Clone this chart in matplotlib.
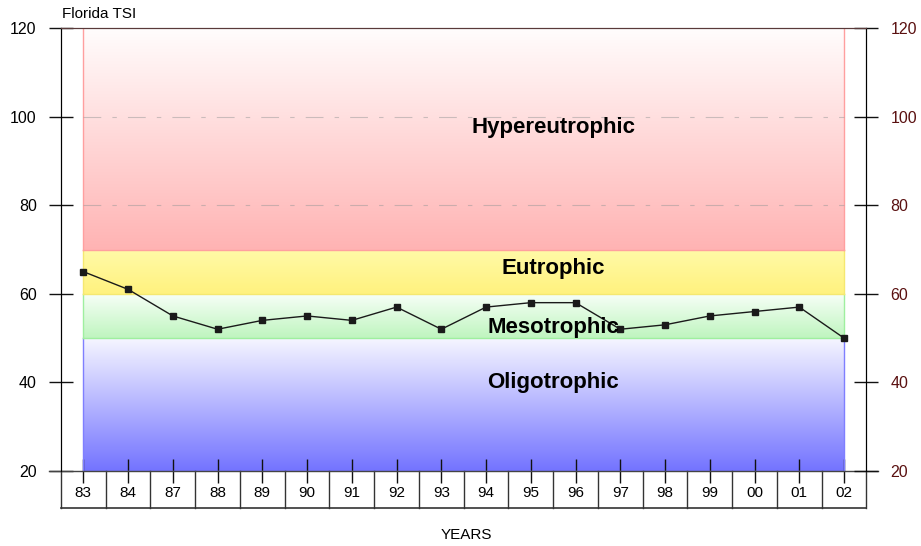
import matplotlib
matplotlib.use("Agg")
import matplotlib.pyplot as plt
import numpy as np
from matplotlib.colors import LinearSegmentedColormap
import matplotlib.transforms as mtransforms

plt.rcParams['font.family'] = ['Liberation Sans', 'DejaVu Sans']

years = ["83", "84", "87", "88", "89", "90", "91", "92", "93", "94", "95", "96", "97", "98", "99", "00", "01", "02"]
tsi = [65, 61, 55, 52, 54, 55, 54, 57, 52, 57, 58, 58, 52, 53, 55, 56, 57, 50]

band_names = ["Oligotrophic", "Mesotrophic", "Eutrophic", "Hypereutrophic"]
band_low = [20, 50, 60, 70]
band_high = [50, 60, 70, 120]
band_top_colors = ["#f6f6ff", "#f8fff8", "#fffaa8", "#fffdfd"]
band_bot_colors = ["#7373ff", "#bff5bf", "#fff27e", "#ffb3b3"]
band_edge_colors = ["#7f7fff", "#9fef9f", "#f5e870", "#ff9f9f"]
label_y = [40, 52.3, 65.8, 97.6]

yticks = [20, 40, 60, 80, 100, 120]

fig = plt.figure(figsize=(9.21, 5.46), dpi=100)
ax = fig.add_axes([61/921, 1-471/546, 805.4/921, 443/546])
n = len(years)
x = np.arange(n)
ax.set_xlim(-0.5, n - 0.5)
ax.set_ylim(20, 120)

for lo, hi, ct, cb, ce in zip(band_low, band_high, band_top_colors, band_bot_colors, band_edge_colors):
    cmap = LinearSegmentedColormap.from_list("g", [cb, ct])
    grad = np.linspace(0, 1, 256).reshape(-1, 1)
    ax.imshow(grad, extent=(0, n - 1, lo, hi), origin="lower", cmap=cmap, aspect="auto", zorder=1)
    ax.plot([0, 0], [lo, hi], color=ce, lw=1, zorder=2)
    ax.plot([n - 1, n - 1], [lo, hi], color=ce, lw=1, zorder=2)
    ax.plot([0, n - 1], [lo, lo], color=ce, lw=1, zorder=2)

for yv in [80, 100]:
    ax.plot([0, n - 1], [yv, yv], color="#999999", lw=0.8, ls=(0, (16, 10, 4, 10)), alpha=0.5, zorder=2)

for name, ly in zip(band_names, label_y):
    ax.text(10.5, ly, name, ha="center", va="center", fontsize=16, fontweight="bold", color="black", zorder=5)

ax.plot(x, tsi, color="#1a1a1a", lw=1, marker="s", markersize=5, zorder=4)

ax.set_xticks(x)
ax.set_xticklabels(years, fontsize=11)
ax.tick_params(axis="x", direction="inout", length=17, width=1, pad=2, color="#111111")
ax.set_yticks(yticks)
ax.set_yticklabels([str(v) for v in yticks], fontsize=11.5)
ax.tick_params(axis="y", direction="inout", length=17, width=1, pad=9, color="#111111")

ax2 = ax.twinx()
ax2.set_ylim(20, 120)
ax2.set_yticks(yticks)
ax2.set_yticklabels([str(v) for v in yticks], fontsize=11.5, color="#5a1010")
ax2.tick_params(axis="y", direction="inout", length=17, width=1, pad=9, color="#111111")

for a in (ax, ax2):
    a.spines["bottom"].set_visible(False)
    a.spines["top"].set_color("#5a3a3a")
    a.spines["left"].set_color("black")
    a.spines["right"].set_color("black")

trans = mtransforms.blended_transform_factory(ax.transData, ax.transAxes)
tb = -37 / 443
for b in np.arange(-0.5, n, 1.0):
    ax.plot([b, b], [0, tb], transform=trans, color="#333333", lw=1, clip_on=False, zorder=6)
ax.plot([-0.5, n - 0.5], [tb, tb], transform=trans, color="#333333", lw=1.2, clip_on=False)
ax.plot([-0.77, n - 0.23], [0, 0], transform=trans, color="#444444", lw=1, clip_on=False, zorder=6)

fig.text(62/921, 1-14/546, "Florida TSI", fontsize=11, ha="left", va="center")
fig.text(466/921, 1-535/546, "YEARS", fontsize=11, ha="center", va="center")

fig.savefig("out.png", dpi=100)
